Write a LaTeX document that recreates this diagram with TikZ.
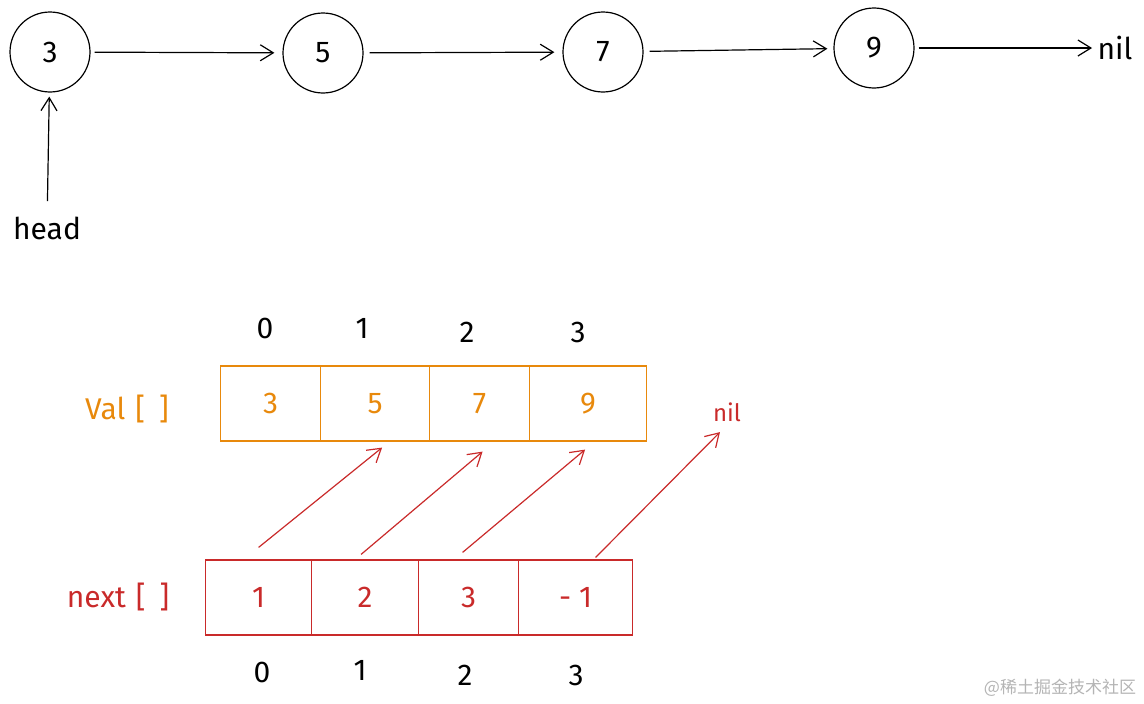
\documentclass[tikz,border=0pt]{standalone}
\usepackage{fontspec}
\setmainfont{Fira Sans}
\newfontfamily\cjk{Noto Sans CJK SC}
\usetikzlibrary{arrows.meta}
\definecolor{valorange}{HTML}{E8890C}
\definecolor{nextred}{HTML}{C92A2A}
\definecolor{markgray}{HTML}{B4B4B4}

\begin{document}
\begin{tikzpicture}[x=1pt, y=-1pt,
    txt/.style={font=\fontsize{30}{34}\selectfont},
    listnode/.style={circle, draw, line width=1.2pt, minimum size=80pt, inner sep=0pt, txt},
    cell/.style={draw, line width=1.2pt, minimum height=75pt, inner sep=0pt, anchor=west, txt},
    sketch/.style={line width=1.2pt, -{Straight Barb[length=13pt, width=16pt]}}]
    \useasboundingbox (0,0) rectangle (1144,704);

    % Draw the linked list
    \node[listnode] (c3) at (50,52) {3};
    \node[listnode] (c5) at (323,53) {5};
    \node[listnode] (c7) at (603,52) {7};
    \node[listnode] (c9) at (874,48) {9};
    \node[txt] (nil) at (1115,48) {nil};
    \node[txt] (head) at (47,228) {head};

    % Draw the list pointers
    \draw[sketch, shorten <=4pt, shorten >=8pt] (c3) -- (c5);
    \draw[sketch, shorten <=6pt, shorten >=8pt] (c5) -- (c7);
    \draw[sketch, shorten <=6pt, shorten >=6pt] (c7) -- (c9);
    \draw[sketch, shorten <=4pt, shorten >=2pt] (c9) -- (nil);
    \draw[sketch, shorten <=12pt, shorten >=4pt] (head) -- (c3);

    % Draw the Val array
    \node[txt, valorange] (vallabel) at (127,409) {Val\hspace{10pt}[\hspace{14pt}]};
    \foreach \i/\x/\w/\v in {0/220/100/3, 1/320/109/5, 2/429/100/7, 3/529/117/9}
        \node[cell, valorange, minimum width=\w pt] (v\i) at (\x,403.5) {\v};
    \foreach \i/\x/\y in {0/265/328, 1/362/328, 2/467/332, 3/578/332}
        \node[txt] (vi\i) at (\x,\y) {\i};

    % Draw the next array
    \node[txt, nextred] (nextlabel) at (118,597) {next\hspace{10pt}[\hspace{14pt}]};
    \foreach \i/\x/\w/\v in {0/205/106/1, 1/311/107/2, 2/418/100/3, 3/518/114/- 1}
        \node[cell, nextred, minimum width=\w pt] (n\i) at (\x,597.5) {\v};
    \foreach \i/\x/\y in {0/262/672, 1/360/670, 2/465/675, 3/576/675}
        \node[txt] (ni\i) at (\x,\y) {\i};
    \node[nextred, font=\fontsize{24}{26}\selectfont] (nilend) at (727,412) {nil};

    % Draw next pointers
    \draw[sketch, nextred] ([yshift=12pt]n0.north) -- ([shift={(7pt,-6pt)}]v1.south);
    \draw[sketch, nextred] ([shift={(-4pt,5pt)}]n1.north) -- ([shift={(3pt,-10pt)}]v2.south);
    \draw[sketch, nextred] ([shift={(-6pt,7pt)}]n2.north) -- ([shift={(-3pt,-8pt)}]v3.south);
    \draw[sketch, nextred, shorten >=10pt] ([shift={(20pt,2pt)}]n3.north) -- (nilend.south);

    % Watermark
    \node[markgray, font=\cjk\fontsize{17}{20}\selectfont] (mark) at (1060,688) {@稀土掘金技术社区};
\end{tikzpicture}
\end{document}
